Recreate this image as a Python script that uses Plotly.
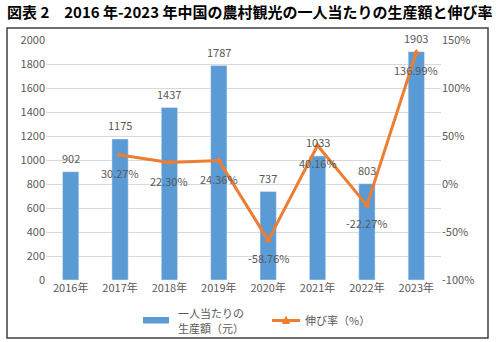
import plotly.graph_objects as go

years = ["2016年", "2017年", "2018年", "2019年", "2020年", "2021年", "2022年", "2023年"]
output_per_capita = [902, 1175, 1437, 1787, 737, 1033, 803, 1903]
growth_years = ["2017年", "2018年", "2019年", "2020年", "2021年", "2022年", "2023年"]
growth_rate = [30.27, 22.30, 24.36, -58.76, 40.16, -22.27, 136.99]
left_ticks = list(range(0, 2001, 200))
right_ticks = [-100, -50, 0, 50, 100, 150]
bar_name_lines = ["一人当たりの", "生産額（元）"]
line_name = "伸び率（%）"

FONT = "Noto Sans CJK JP"
GRAY = "#595959"
BLUE = "#5B9BD5"
ORANGE = "#ED7D31"

# plot area in pixels: x 46..441, y 40..280
def px(x):
    return (x - 46) / 395

def py(y):
    return (280 - y) / 240

fig = go.Figure()
fig.add_trace(go.Bar(
    x=years, y=output_per_capita, name="".join(bar_name_lines),
    marker_color=BLUE, width=0.33, yaxis="y",
))
fig.add_trace(go.Scatter(
    x=growth_years, y=growth_rate, name=line_name, yaxis="y2",
    mode="lines+markers", line=dict(color=ORANGE, width=3),
    marker=dict(symbol="triangle-up", size=7, color=ORANGE),
))

annotations = []
for x, v in zip(years, output_per_capita):
    annotations.append(dict(x=x, y=v, xref="x", yref="y", text=str(v),
                            showarrow=False, yanchor="middle", yshift=14,
                            font=dict(family=FONT, size=11, color=GRAY)))
for x, v in zip(growth_years, growth_rate):
    annotations.append(dict(x=x, y=v, xref="x", yref="y2", text=f"{v:.2f}%",
                            showarrow=False, yanchor="middle", yshift=-18,
                            font=dict(family=FONT, size=11, color=GRAY)))

annotations.append(dict(
    text="<b>図表 2　2016 年-2023 年中国の農村観光の一人当たりの生産額と伸び率</b>",
    xref="paper", yref="paper", x=px(5), y=py(12), xanchor="left", yanchor="middle",
    showarrow=False, font=dict(family=FONT, size=15, color="#000000")))

# manual legend
legend_font = dict(family=FONT, size=11, color=GRAY)
annotations.append(dict(text=bar_name_lines[0], xref="paper", yref="paper",
                        x=px(176), y=py(313), xanchor="left", yanchor="middle",
                        showarrow=False, font=legend_font))
annotations.append(dict(text=bar_name_lines[1], xref="paper", yref="paper",
                        x=px(176), y=py(328), xanchor="left", yanchor="middle",
                        showarrow=False, font=legend_font))
annotations.append(dict(text=line_name, xref="paper", yref="paper",
                        x=px(303), y=py(320), xanchor="left", yanchor="middle",
                        showarrow=False, font=legend_font))

tri = (f"M {px(282.5)},{py(323.5)} L {px(289.5)},{py(323.5)} L {px(286)},{py(316.5)} Z")

shapes = [
    dict(type="rect", xref="paper", yref="paper",
         x0=px(7), x1=px(488), y0=py(338), y1=py(28),
         line=dict(color="#404040", width=1.5)),
    dict(type="rect", xref="paper", yref="paper",
         x0=px(143), x1=px(169), y0=py(323.5), y1=py(317),
         fillcolor=BLUE, line=dict(width=0)),
    dict(type="line", xref="paper", yref="paper",
         x0=px(272), x1=px(300), y0=py(320.5), y1=py(320.5),
         line=dict(color=ORANGE, width=3)),
    dict(type="path", xref="paper", yref="paper", path=tri,
         fillcolor=ORANGE, line=dict(color=ORANGE, width=1)),
]

fig.update_layout(
    width=497, height=342,
    margin=dict(l=46, r=56, t=40, b=62, autoexpand=False),
    paper_bgcolor="white", plot_bgcolor="white",
    font=dict(family=FONT, size=11, color=GRAY),
    showlegend=False,
    xaxis=dict(showgrid=False, showline=False, ticks="", tickfont=dict(size=11, color=GRAY),
               automargin=False),
    yaxis=dict(range=[0, 2000], tickvals=left_ticks, showgrid=True, gridcolor="#D9D9D9",
               gridwidth=1, zeroline=False, showline=False, ticks="",
               tickfont=dict(size=11, color=GRAY), automargin=False),
    yaxis2=dict(range=[-100, 150], tickvals=right_ticks, ticktext=[f"{t}%" for t in right_ticks],
                overlaying="y", side="right", showgrid=False, zeroline=False, showline=False,
                tickfont=dict(size=11, color=GRAY), automargin=False),
    annotations=annotations,
    shapes=shapes,
)

fig.write_html("out.html")
